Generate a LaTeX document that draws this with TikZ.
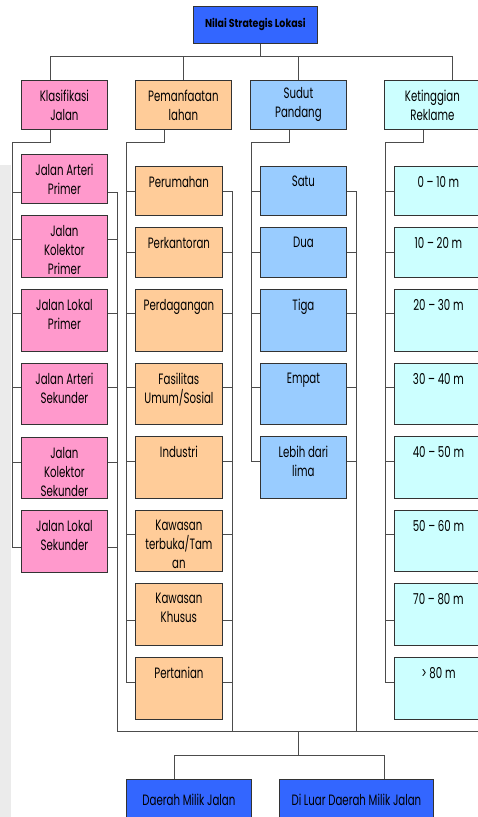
\documentclass[tikz,border=0pt]{standalone}
\usepackage{fontspec}
\setmainfont{Poppins}[FakeStretch=0.68]
\newfontfamily\lebar{Poppins}[FakeStretch=0.82]
\usepackage{xcolor}
\usetikzlibrary{positioning}
\definecolor{birutua}{HTML}{3366FF}
\definecolor{merahmuda}{HTML}{FF99CC}
\definecolor{krem}{HTML}{FFCC99}
\definecolor{birumuda}{HTML}{99CCFF}
\definecolor{tosca}{HTML}{CCFFFF}
\tikzset{
  kotak/.style={draw=black!80, line width=0.8pt, inner sep=0pt, align=center,
    anchor=north west, font=\fontsize{15}{19}\selectfont},
  isi/.style={path picture={\node[font=\fontsize{15}{19}\selectfont, align=center,
    draw=none, fill=none, minimum width=0pt, minimum height=0pt,
    anchor=north, inner sep=0pt] at ([yshift=-9.5pt]path picture bounding box.north) {#1};}},
  garis/.style={draw=black!70, line width=0.7pt},
  kj/.style={kotak, fill=merahmuda, minimum width=86pt},
  pl/.style={kotak, fill=krem, minimum width=87pt},
  sp/.style={kotak, fill=birumuda, minimum width=86pt},
  kr/.style={kotak, fill=tosca, minimum width=88pt}
}

\begin{document}
\begin{tikzpicture}[x=1pt,y=-1pt]
       \clip (0,0) rectangle (478,817);
       \fill[white] (0,0) rectangle (478,817);
       \fill[black!8] (0,165) rectangle (11,817);
       % puncak
       \node[kotak, fill=birutua, minimum width=124pt, minimum height=37pt,
         font=\lebar\fontsize{11.5}{14}\selectfont\bfseries] (nsl) at (193,6) {Nilai Strategis Lokasi};
       \node[kj, minimum height=49pt] (klas) at (21,80) {Klasifikasi\\Jalan};
       \node[pl, minimum width=96pt, minimum height=49pt] (pema) at (135,80) {Pemanfaatan\\lahan};
       \node[sp, minimum width=96pt, minimum height=49pt] (sudu) at (250,80) {Sudut\\Pandang};
       \node[kr, minimum width=96pt, minimum height=49pt] (keti) at (384,80) {Ketinggian\\Reklame};
       \draw[garis] (nsl.south -| 260,0) -- (260,56);
       \draw[garis] (klas.north -| 50,0) |- (452,56) -- (keti.north -| 452,0);
       \draw[garis] (pema.north -| 183,0) -- (183,56);
       \draw[garis] (sudu.north -| 298,0) -- (298,56);

       % klasifikasi jalan
       \node[kj, minimum height=49pt, isi={Jalan Arteri\\Primer}] (kj1) at (21,154) {};
       \node[kj, minimum height=62pt, isi={Jalan\\Kolektor\\Primer}] (kj2) at (21,215) {};
       \node[kj, minimum height=62pt, isi={Jalan Lokal\\Primer}] (kj3) at (21,289) {};
       \node[kj, minimum height=61pt, isi={Jalan Arteri\\Sekunder}] (kj4) at (21,363) {};
       \node[kj, minimum height=61pt, isi={Jalan\\Kolektor\\Sekunder}] (kj5) at (21,437) {};
       \node[kj, minimum height=62pt, isi={Jalan Lokal\\Sekunder}] (kj6) at (21,510) {};
       \draw[garis] (klas.south -| 50,0) |- (12,142) |- (kj6.west |- 0,547);
       \draw[garis] (12,192) -- (kj1.west |- 0,192);
       \draw[garis] (12,239) -- (kj2.west |- 0,239);
       \draw[garis] (12,313) -- (kj3.west |- 0,313);
       \draw[garis] (12,387) -- (kj4.west |- 0,387);
       \draw[garis] (12,462) -- (kj5.west |- 0,462);
       \draw[garis] (kj1.east |- 0,192) -| (117,731);
       \draw[garis] (kj2.east |- 0,239) -- (117,239);
       \draw[garis] (kj3.east |- 0,313) -- (117,313);
       \draw[garis] (kj4.east |- 0,387) -- (117,387);
       \draw[garis] (kj5.east |- 0,462) -- (117,462);
       \draw[garis] (kj6.east |- 0,547) -- (117,547);

       % pemanfaatan lahan
       \node[pl, minimum height=49pt, isi={Perumahan}] (pl1) at (135,166) {};
       \node[pl, minimum height=50pt, isi={Perkantoran}] (pl2) at (135,227) {};
       \node[pl, minimum height=62pt, isi={Perdagangan}] (pl3) at (135,289) {};
       \node[pl, minimum height=61pt, isi={Fasilitas\\Umum/Sosial}] (pl4) at (135,363) {};
       \node[pl, minimum height=62pt, isi={Industri}] (pl5) at (135,436) {};
       \node[pl, minimum height=61pt, isi={Kawasan\\terbuka/Tam\\an}] (pl6) at (135,510) {};
       \node[pl, minimum height=62pt, isi={Kawasan\\Khusus}] (pl7) at (135,583) {};
       \node[pl, minimum height=62pt, isi={Pertanian}] (pl8) at (135,657) {};
       \draw[garis] (pema.south -| 164,0) |- (126,142) |- (pl8.west |- 0,682);
       \draw[garis] (126,191) -- (pl1.west |- 0,191);
       \draw[garis] (126,252) -- (pl2.west |- 0,252);
       \draw[garis] (126,313) -- (pl3.west |- 0,313);
       \draw[garis] (126,387) -- (pl4.west |- 0,387);
       \draw[garis] (126,461) -- (pl5.west |- 0,461);
       \draw[garis] (126,534) -- (pl6.west |- 0,534);
       \draw[garis] (126,620) -- (pl7.west |- 0,620);
       \draw[garis] (pl1.east |- 0,191) -| (232,731);
       \draw[garis] (pl2.east |- 0,252) -- (232,252);
       \draw[garis] (pl3.east |- 0,313) -- (232,313);
       \draw[garis] (pl4.east |- 0,387) -- (232,387);
       \draw[garis] (pl5.east |- 0,461) -- (232,461);
       \draw[garis] (pl6.east |- 0,534) -- (232,534);
       \draw[garis] (pl7.east |- 0,620) -- (232,620);
       \draw[garis] (pl8.east |- 0,682) -- (232,682);

       % sudut pandang
       \node[sp, minimum height=49pt, isi={Satu}] (sp1) at (260,166) {};
       \node[sp, minimum height=50pt, isi={Dua}] (sp2) at (260,227) {};
       \node[sp, minimum height=62pt, isi={Tiga}] (sp3) at (260,289) {};
       \node[sp, minimum height=61pt, isi={Empat}] (sp4) at (260,363) {};
       \node[sp, minimum height=62pt, isi={Lebih dari\\lima}] (sp5) at (260,436) {};
       \draw[garis] (sudu.south -| 289,0) |- (251,142) |- (sp5.west |- 0,461);
       \draw[garis] (251,191) -- (sp1.west |- 0,191);
       \draw[garis] (251,252) -- (sp2.west |- 0,252);
       \draw[garis] (251,313) -- (sp3.west |- 0,313);
       \draw[garis] (251,387) -- (sp4.west |- 0,387);
       \draw[garis] (sp1.east |- 0,191) -| (356,731);
       \draw[garis] (sp2.east |- 0,252) -- (356,252);
       \draw[garis] (sp3.east |- 0,313) -- (356,313);
       \draw[garis] (sp4.east |- 0,387) -- (356,387);
       \draw[garis] (sp5.east |- 0,461) -- (356,461);

       % ketinggian reklame
       \node[kr, minimum height=49pt, isi={0 -- 10 m}] (kr1) at (394,166) {};
       \node[kr, minimum height=50pt, isi={10 -- 20 m}] (kr2) at (394,227) {};
       \node[kr, minimum height=62pt, isi={20 -- 30 m}] (kr3) at (394,289) {};
       \node[kr, minimum height=61pt, isi={30 -- 40 m}] (kr4) at (394,363) {};
       \node[kr, minimum height=62pt, isi={40 -- 50 m}] (kr5) at (394,436) {};
       \node[kr, minimum height=61pt, isi={50 -- 60 m}] (kr6) at (394,510) {};
       \node[kr, minimum height=62pt, isi={70 -- 80 m}] (kr7) at (394,583) {};
       \node[kr, minimum height=62pt, isi={> 80 m}] (kr8) at (394,657) {};
       \draw[garis] (keti.south -| 423,0) |- (385,142) |- (kr8.west |- 0,682);
       \draw[garis] (385,191) -- (kr1.west |- 0,191);
       \draw[garis] (385,252) -- (kr2.west |- 0,252);
       \draw[garis] (385,313) -- (kr3.west |- 0,313);
       \draw[garis] (385,387) -- (kr4.west |- 0,387);
       \draw[garis] (385,461) -- (kr5.west |- 0,461);
       \draw[garis] (385,534) -- (kr6.west |- 0,534);
       \draw[garis] (385,620) -- (kr7.west |- 0,620);

       % dasar
       \node[kotak, fill=birutua, minimum width=125pt, minimum height=40pt,
         font=\fontsize{15}{17}\selectfont] (dmj) at (126,779) {Daerah Milik Jalan};
       \node[kotak, fill=birutua, minimum width=154pt, minimum height=40pt,
         font=\fontsize{15}{17}\selectfont] (ldmj) at (279,779) {Di Luar Daerah Milik Jalan};
       \draw[garis] (117,731) -- (478,731);
       \draw[garis] (298,731) -- (298,755);
       \draw[garis] (dmj.north -| 174,0) |- (384,755) -- (ldmj.north -| 384,0);
\end{tikzpicture}
\end{document}
